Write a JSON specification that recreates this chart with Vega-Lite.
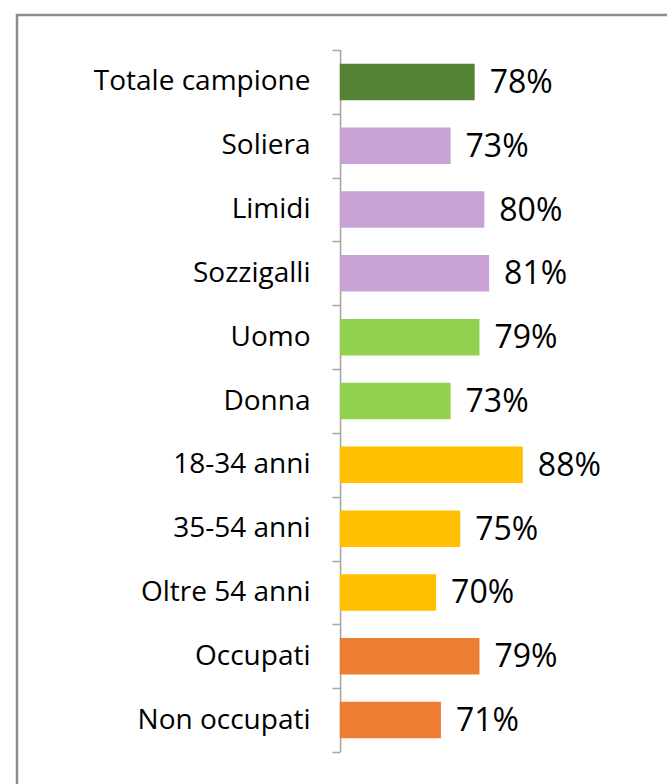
{
  "$schema": "https://vega.github.io/schema/vega-lite/v6.json",
  "autosize": "none",
  "padding": {"left": 17, "top": 15, "right": 0, "bottom": 0},
  "width": 660,
  "height": 772,
  "background": "white",
  "config": {"view": {"stroke": "#8c8c8c", "strokeWidth": 2.5}, "font": "Open Sans"},
  "data": {"values": [
    {"cat": "Totale campione", "group": "Totale", "value": 0.78},
    {"cat": "Soliera", "group": "Comune", "value": 0.73},
    {"cat": "Limidi", "group": "Comune", "value": 0.80},
    {"cat": "Sozzigalli", "group": "Comune", "value": 0.81},
    {"cat": "Uomo", "group": "Genere", "value": 0.79},
    {"cat": "Donna", "group": "Genere", "value": 0.73},
    {"cat": "18-34 anni", "group": "Età", "value": 0.88},
    {"cat": "35-54 anni", "group": "Età", "value": 0.75},
    {"cat": "Oltre 54 anni", "group": "Età", "value": 0.70},
    {"cat": "Occupati", "group": "Occupazione", "value": 0.79},
    {"cat": "Non occupati", "group": "Occupazione", "value": 0.71}
  ]},
  "encoding": {
    "y": {
      "field": "cat", "type": "nominal", "sort": null,
      "scale": {"paddingInner": 0, "paddingOuter": 0.548},
      "axis": {
        "title": null, "domain": false, "tickBand": "extent", "offset": -323,
        "tickSize": 8, "tickColor": "#A6A6A6", "tickWidth": 1.5,
        "labelFontSize": 28, "labelColor": "#000000", "labelPadding": 22,
        "labelFont": "Open Sans", "labelLimit": 400
      }
    }
  },
  "layer": [
    {
      "mark": {"type": "rect", "color": "#A6A6A6"},
      "encoding": {
        "x": {"datum": 0.5, "type": "quantitative", "scale": {"domain": [-0.17, 1.2], "nice": false, "zero": false}, "axis": null},
        "x2": {"datum": 0.5033}
      }
    },
    {
      "mark": {"type": "bar", "height": {"band": 0.572}},
      "encoding": {
        "x": {"field": "value", "type": "quantitative", "scale": {"domain": [-0.17, 1.2], "nice": false, "zero": false}, "axis": null},
        "x2": {"datum": 0.5},
        "color": {
          "field": "group", "type": "nominal", "legend": null,
          "scale": {"domain": ["Totale", "Comune", "Genere", "Età", "Occupazione"],
                    "range": ["#548235", "#C8A2D6", "#92D050", "#FFC000", "#ED7D31"]}
        }
      }
    },
    {
      "mark": {"type": "text", "align": "left", "baseline": "middle", "dx": 15, "dy": 1, "fontSize": 32, "color": "#000000", "font": "Open Sans"},
      "encoding": {
        "x": {"field": "value", "type": "quantitative", "scale": {"domain": [-0.17, 1.2], "nice": false, "zero": false}, "axis": null},
        "text": {"field": "value", "type": "quantitative", "format": ".0%"}
      }
    }
  ]
}
